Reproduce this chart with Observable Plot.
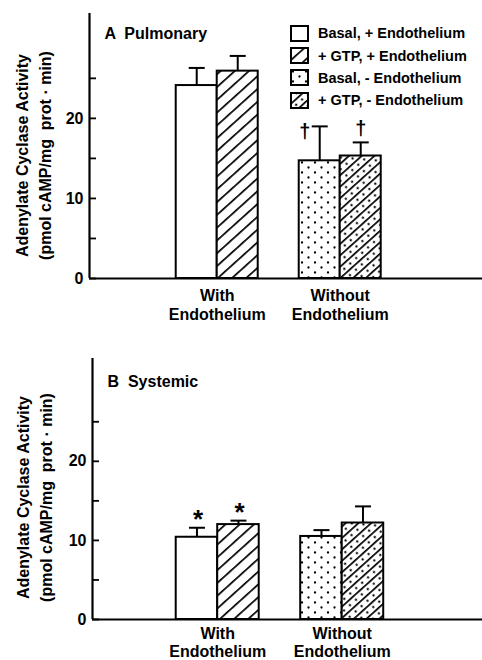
<!DOCTYPE html>
<html>
<head>
<meta charset="utf-8">
<script src="https://cdn.jsdelivr.net/npm/d3@7"></script>
<script src="https://cdn.jsdelivr.net/npm/@observablehq/plot@0.6"></script>
<style>
  body { margin: 0; background: #fff; }
  #wrap { position: relative; width: 482px; height: 660px; overflow: hidden; font-family: "Liberation Sans", Arial, sans-serif; }
  #wrap svg.plot-panel { display: block; }
  #legend { position: absolute; left: 290px; top: 22px; font-size: 14.5px; font-weight: bold; color: #000; }
  #legend .row { display: flex; align-items: center; height: 22.4px; white-space: nowrap; }
  #legend .row svg { margin-right: 9px; flex: none; }
</style>
</head>
<body>
<svg width="0" height="0" style="position:absolute">
  <defs>
    <pattern id="hatch" patternUnits="userSpaceOnUse" width="10" height="9.5" patternTransform="rotate(-42)">
      <rect width="10" height="9.5" fill="#fff"></rect>
      <rect x="0" y="0" width="10" height="1.7" fill="#000"></rect>
    </pattern>
    <pattern id="dots" patternUnits="userSpaceOnUse" width="13" height="10">
      <rect width="13" height="10" fill="#fff"></rect>
      <circle cx="3" cy="2.5" r="1.15" fill="#000"></circle>
      <circle cx="9.5" cy="7.5" r="1.15" fill="#000"></circle>
    </pattern>
    <pattern id="hatchdots" patternUnits="userSpaceOnUse" width="8" height="8.5" patternTransform="rotate(-42)">
      <rect width="8" height="8.5" fill="#fff"></rect>
      <rect x="0" y="0" width="8" height="1.7" fill="#000"></rect>
      <circle cx="4" cy="5.1" r="1.15" fill="#000"></circle>
    </pattern>
  </defs>
</svg>
<div id="wrap">
  <div id="legend"></div>
</div>
<script>
// ---------- data ----------
const groups = ["With\nEndothelium", "Without\nEndothelium"];
const series = ["Basal, + Endothelium", "+ GTP, + Endothelium", "Basal, - Endothelium", "+ GTP, - Endothelium"];
const seriesGroup = [groups[0], groups[0], groups[1], groups[1]];
const pulmonaryMean = [24.1, 25.9, 14.7, 15.3];
const pulmonaryErr  = [2.2, 1.9, 4.3, 1.7];
const pulmonaryNote = ["", "", "†", "†"];
const systemicMean  = [10.4, 12.0, 10.5, 12.2];
const systemicErr   = [1.2, 0.5, 0.8, 2.1];
const systemicNote  = ["*", "*", "", ""];
const yTicks = [0, 10, 20];
const yMinorTicks = [5, 15, 25];
const yLabel = "Adenylate Cyclase Activity\n(pmol cAMP/mg  prot · min)";
const panelTitles = ["A  Pulmonary", "B  Systemic"];

// ---------- styles ----------
const FONT = "Liberation Sans, Arial, sans-serif";
const fills = ["#fff", "url(#hatch)", "url(#dots)", "url(#hatchdots)"];

const capSymbol = {
  draw(context, size) {
    const r = Math.sqrt(size / Math.PI);
    context.moveTo(-r, 0);
    context.lineTo(r, 0);
  }
};

function buildRows(mean, err, note) {
  return mean.map((m, i) => {
    const g = groups.indexOf(seriesGroup[i]);
    const within = seriesGroup.slice(0, i).filter(s => s === seriesGroup[i]).length;
    return { series: series[i], idx: i, slot: g * 3 + within, mean: m, top: m + err[i], note: note[i] };
  });
}

function panel({ title, rows, xDomain, yDomain, marginLeft, marginTop, marginBottom, labelDx, labelDy, titleDx, titleDy, groupDy, groupLineHeight }) {
  const center = d => d.slot + 0.5;
  return Plot.plot({
    width: 482, height: 330,
    marginLeft, marginRight: 0, marginTop, marginBottom,
    x: { domain: xDomain, axis: null },
    y: { domain: yDomain, axis: null, label: null },
    color: { domain: series, range: fills },
    style: { fontFamily: FONT, fontWeight: "bold", background: "white", color: "black" },
    marks: [
      Plot.rect(rows, { x1: "slot", x2: d => d.slot + 1, y1: 0, y2: "mean", fill: "series", stroke: "black", strokeWidth: 2 }),
      Plot.ruleX(rows, { x: center, y1: "mean", y2: "top", stroke: "black", strokeWidth: 2 }),
      Plot.dot(rows, { x: center, y: "top", symbol: capSymbol, r: 8, stroke: "black", strokeWidth: 2, fill: "none" }),
      Plot.ruleY([0], { stroke: "black", strokeWidth: 2.2 }),
      Plot.ruleX([xDomain[0]], { y1: 0, y2: yDomain[1], stroke: "black", strokeWidth: 2.2 }),
      Plot.axisY(yTicks, { tickSize: -7, tickPadding: 13, strokeWidth: 1.8, fontSize: 16, fontWeight: "bold", fill: "black", label: null }),
      Plot.axisY(yMinorTicks, { tickSize: -7, strokeWidth: 1.8, tickFormat: () => "", label: null }),
      Plot.text([title], { frameAnchor: "top-left", textAnchor: "start", lineAnchor: "middle", dx: titleDx, dy: titleDy, fontSize: 16, fontWeight: "bold", fill: "black" }),
      Plot.text([yLabel], { frameAnchor: "left", rotate: -90, lineAnchor: "middle", textAnchor: "middle", dx: labelDx, dy: labelDy, lineHeight: 1.44, fontSize: 16, fontWeight: "bold", fill: "black" }),
      Plot.text(groups, { x: (d, i) => i * 3 + 1, frameAnchor: "bottom", lineAnchor: "top", dy: groupDy, lineHeight: groupLineHeight, fontSize: 16, fontWeight: "bold", fill: "black" }),
      // daggers
      Plot.text(rows.filter(d => d.note === "†" && d.slot % 3 === 0), { x: center, y: "top", text: "note", dx: -15, dy: 5, fontSize: 20, fontWeight: "bold", fill: "black" }),
      Plot.text(rows.filter(d => d.note === "†" && d.slot % 3 === 1), { x: center, y: "top", text: "note", dy: -14, fontSize: 20, fontWeight: "bold", fill: "black" }),
      // asterisks
      Plot.text(rows.filter(d => d.note === "*"), { x: center, y: "top", text: "note", dx: 1, dy: -8, fontSize: 26, fontWeight: "bold", fill: "black" })
    ]
  });
}

const wrap = document.getElementById("wrap");
const a = panel({
  title: panelTitles[0],
  rows: buildRows(pulmonaryMean, pulmonaryErr, pulmonaryNote),
  xDomain: [-2.115, 7.47], yDomain: [0, 33.1],
  marginLeft: 89, marginTop: 13, marginBottom: 52,
  labelDx: -57.5, labelDy: 9.5, titleDx: 15, titleDy: 20,
  groupDy: 9, groupLineHeight: 1.17
});
const b = panel({
  title: panelTitles[1],
  rows: buildRows(systemicMean, systemicErr, systemicNote),
  xDomain: [-2.017, 7.38], yDomain: [0, 33.0],
  marginLeft: 92, marginTop: 28, marginBottom: 41,
  labelDx: -59, labelDy: 8.5, titleDx: 15, titleDy: 23.7,
  groupDy: 7, groupLineHeight: 1.12
});
a.classList.add("plot-panel");
b.classList.add("plot-panel");
wrap.insertBefore(b, wrap.firstChild);
wrap.insertBefore(a, wrap.firstChild);

// legend (panel A)
const legend = document.getElementById("legend");
series.forEach((s, i) => {
  const row = document.createElement("div");
  row.className = "row";
  row.innerHTML = `<svg width="19" height="17"><rect x="1" y="1" width="17" height="15" fill="${fills[i]}" stroke="#000" stroke-width="2"></rect></svg><span>${s}</span>`;
  legend.appendChild(row);
});
</script>
</body>
</html>
